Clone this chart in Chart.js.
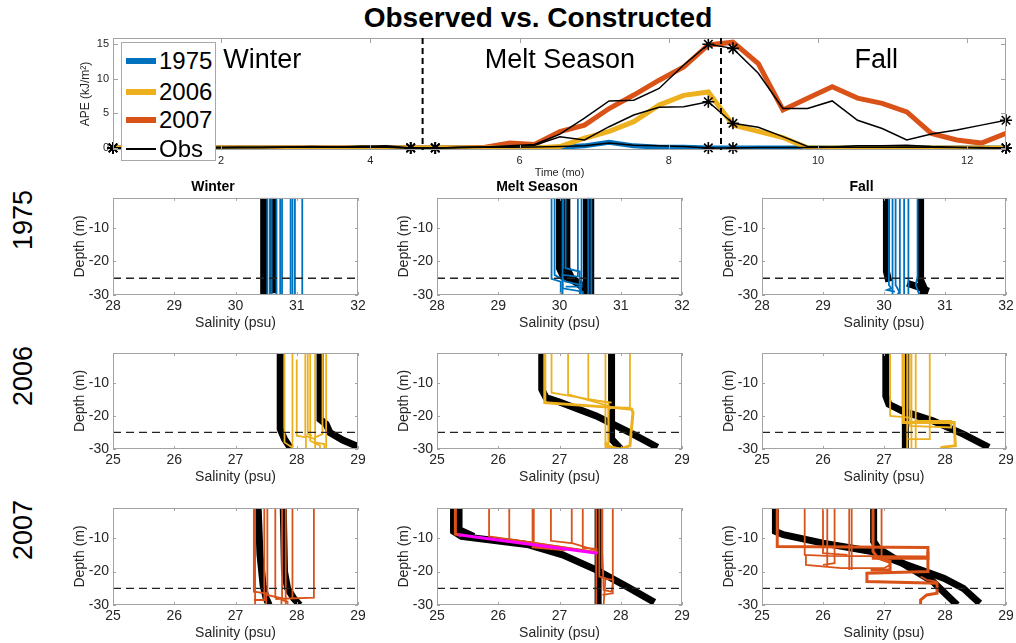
<!DOCTYPE html>
<html>
<head>
<meta charset="utf-8">
<script src="https://cdn.jsdelivr.net/npm/chart.js@4.4.1/dist/chart.umd.min.js"></script>
<style>
  body { margin:0; background:#fff; width:1016px; height:643px; overflow:hidden; position:relative;
         font-family:"Liberation Sans", Arial, sans-serif; color:#000; }
  canvas { position:absolute; }
  #title { position:absolute; left:0; width:1076px; top:2px; text-align:center; font-weight:bold; font-size:28px; }
  .rowlab { position:absolute; font-size:27px; transform:translate(-50%,-50%) rotate(-90deg); white-space:nowrap; }
  #legend { position:absolute; left:121px; top:42px; width:93px; height:117px; background:#fff;
            border:1px solid #a8a8a8; z-index:5; }
  .lg { position:absolute; left:4px; height:28px; line-height:28px; font-size:24px; padding-left:33px; }
  .lg span { position:absolute; left:0; top:50%; width:30px; transform:translateY(-50%); }
</style>
</head>
<body>
<div id="title">Observed vs. Constructed</div>
<div class="rowlab" style="left:23px;top:220px">1975</div>
<div class="rowlab" style="left:23px;top:376px">2006</div>
<div class="rowlab" style="left:23px;top:530px">2007</div>
<div id="legend">
  <div class="lg" style="top:4px"><span style="height:6px;background:#0072BD"></span>1975</div>
  <div class="lg" style="top:35px"><span style="height:6px;background:#EDB120"></span>2006</div>
  <div class="lg" style="top:63px"><span style="height:6px;background:#D95319"></span>2007</div>
  <div class="lg" style="top:92px"><span style="height:2px;background:#000"></span>Obs</div>
</div>
<canvas id="ape" width="976" height="165" style="left:40px;top:25px"></canvas>
<script>
// ---- top panel: APE time series ----
const times = [0.55, 0.88, 1.22, 1.55, 1.88, 2.22, 2.55, 2.88, 3.21, 3.55, 3.88, 4.21, 4.54,
  4.87, 5.21, 5.54, 5.87, 6.20, 6.54, 6.87, 7.20, 7.53, 7.87, 8.20, 8.53, 8.86, 9.20, 9.53,
  9.86, 10.19, 10.53, 10.86, 11.19, 11.52, 11.86, 12.19, 12.52];
const ape1975 = [0,0,0,0,0,0,0,0,0,0,0,0,0,0,0,0,0,0, 0.1,0.3,0.8,0.3,0.1,0.1, 0,0,0,0,0,0,0,0,0,0,0,0,0];
const ape2006 = [0,0,0,0,0,0,0,0,0,0,0,0,0,0,0,0,0,0, 0.2,1.4,2.4,3.8,6.2,7.6,8.1,3.3,2.4,1.5, 0,0,0,0,0,0,0,0,0];
const ape2007 = [0,0,0,0,0,0,0,0,0,0,0,0,0,0,0, 0.1,0.7,0.5,2.35,3.3,5.7,7.65,9.8,11.7,14.9,15.3,
  12.2,5.5,7.2,8.85,7.2,6.45,5.2,2.1,1.15,0.7,2.1];
const obs1975 = [0,0,0,0.05,0,0.05,0.05,0.1,0.15,0.1,0.1,0.1,0,0,0.05,0.1,0.1,0.15,0.2,0.3,0.7,
  0.4,0.3,0.2,0,0,0.05,0.05,0.05,0.1,0.1,0.1,0.15,0.1,0.05,0,0];
const obs2006 = [0,0,0.05,0.05,0.05,0.1,0.05,0.1,0.2,0.15,0.25,0.15,0,0,0.1,0.15,0.2,0.4,1.6,1.15,
  3.07,4.76,5.87,5.96,6.68,3.56,2.98,1.63,0.2,0.15,0.3,0.3,0.4,0.2,0.1,0.05,0];
const obs2007 = [0,0.05,0,0.05,0.1,0.05,0.1,0.15,0.1,0.1,0.2,0.3,0,0,0.05,0.15,0.3,0.5,2.0,4.3,
  6.8,6.9,8.6,12.0,15.0,14.4,10.8,5.7,5.7,6.8,4.0,2.8,1.15,2.0,2.6,3.3,4.0];
const seasonEdgeIdx = [0, 12, 13, 24, 25, 36];
const seasonBreaks = [4.70, 8.70];
const seasonNames = ['Winter', 'Melt Season', 'Fall'];
const seasonNameX = [2.55, 6.54, 10.78];
const apeTicks = [0, 5, 10, 15];
const timeTicks = [2, 4, 6, 8, 10, 12];

// ---- profile panels: salinity (psu) vs depth (m), each profile = [salinity, depth] pairs ----
const salTicks1975 = [28, 29, 30, 31, 32];
const salTicks0607 = [25, 26, 27, 28, 29];
const depthTicks = [-30, -20, -10];
const mixedLayer = -25;

const winter1975Obs = [
  [[30.46,-1],[30.46,-30]],
  [[30.62,-1],[30.62,-29.5]]
];
const winter1975Con = [
  [[30.52,-1],[30.52,-30]], [[30.56,-1],[30.56,-30]], [[30.59,-1],[30.59,-30]],
  [[30.67,-1],[30.67,-30]], [[30.73,-1],[30.73,-30]], [[30.76,-1],[30.76,-30]],
  [[30.90,-1],[30.90,-30]], [[30.93,-1],[30.93,-30]], [[30.97,-1],[30.97,-30]],
  [[31.09,-1],[31.09,-30]]
];
const melt1975Obs = [
  [[30.0,-1],[30.0,-22],[30.05,-24],[30.25,-26],[30.4,-28],[30.47,-30]],
  [[30.12,-1],[30.12,-22],[30.2,-25],[30.4,-27.5],[30.5,-30]],
  [[30.44,-1],[30.44,-30]],
  [[30.51,-1],[30.51,-30]]
];
const melt1975Con = [
  [[29.87,-1],[29.87,-25.2],[30.02,-26],[30.02,-30]],
  [[29.92,-1],[29.92,-24],[30.1,-26],[30.35,-27],[30.35,-30]],
  [[30.05,-1],[30.05,-30]],
  [[30.1,-1],[30.1,-22],[30.33,-23],[30.33,-30]],
  [[30.3,-1],[30.3,-24.5],[30.05,-24],[30.05,-28],[30.38,-29],[30.38,-30]],
  [[30.36,-1],[30.36,-27.5],[30.1,-27.5]],
  [[30.47,-1],[30.47,-30]],
  [[30.52,-1],[30.52,-30]]
];
const fall1975Obs = [
  [[30.04,-1],[30.04,-23],[30.08,-26]],
  [[30.6,-1],[30.6,-25.5],[30.66,-28],[30.63,-30]],
  [[30.38,-26.5],[30.55,-27.5],[30.68,-28.5],[30.65,-30]]
];
const fall1975Con = [
  [[30.08,-1],[30.08,-27],[30.12,-28],[30.05,-28.5],[30.18,-29]],
  [[30.14,-1],[30.14,-30]],
  [[30.19,-1],[30.19,-27],[30.25,-29],[30.22,-30]],
  [[30.26,-1],[30.26,-30]],
  [[30.33,-1],[30.33,-30]],
  [[30.4,-1],[30.4,-30]],
  [[30.55,-1],[30.55,-24.5],[30.52,-27],[30.58,-30]]
];
const winter2006Obs = [
  [[27.73,-1],[27.73,-24],[27.8,-27],[27.9,-29.8]],
  [[28.38,-1],[28.38,-21],[28.48,-22.5],[28.54,-25],[28.75,-27.3],[29.0,-29.3]]
];
const winter2006Con = [
  [[27.8,-1],[27.8,-28],[27.92,-29.5]],
  [[27.93,-1],[27.93,-30]],
  [[28.0,-3],[28.0,-26],[28.15,-26.5],[28.15,-30]],
  [[28.14,-1],[28.14,-26],[28.3,-27],[28.3,-30]],
  [[28.18,-1],[28.18,-25.5],[28.25,-26]],
  [[28.22,-1],[28.22,-27.5],[28.38,-29],[28.38,-30]],
  [[28.3,-1],[28.3,-28],[28.45,-28.5],[28.45,-30]],
  [[28.42,-1],[28.42,-25.5],[28.3,-26.5],[28.3,-28]],
  [[28.48,-1],[28.48,-30]]
];
const melt2006Obs = [
  [[26.71,-1],[26.71,-12],[26.78,-14.5],[27.0,-15.8],[27.6,-20],[28.2,-25.5],[28.6,-29.5]],
  [[27.85,-1],[27.85,-27],[28.0,-30]]
];
const melt2006Con = [
  [[26.87,-1],[26.87,-13],[27.8,-16],[27.8,-29],[28.0,-30]],
  [[27.14,-1],[27.14,-13.5],[27.8,-17],[27.8,-28]],
  [[27.47,-1],[27.47,-15],[27.85,-16]],
  [[27.75,-1],[27.75,-29.5],[27.95,-30]],
  [[28.15,-1],[28.15,-17.5],[27.85,-17.5],[27.8,-18]]
];
const melt2006ConThick = [
  [[26.76,-1],[26.76,-16],[27.9,-17.5],[28.18,-18],[28.2,-19],[28.15,-29],[28.0,-30],[27.8,-29.5],[27.75,-28]]
];
const fall2006Obs = [
  [[27.03,-1],[27.03,-14],[27.08,-16.5],[27.3,-18.5],[27.8,-21.5],[28.3,-25.5],[28.72,-29.5]],
  [[27.35,-1],[27.35,-30]]
];
const fall2006Con = [
  [[27.1,-1],[27.1,-20],[27.42,-20.5]],
  [[27.38,-1],[27.38,-30]],
  [[27.42,-1],[27.42,-23],[28.1,-23.5],[28.1,-21.5],[27.5,-21.5]],
  [[27.52,-1],[27.52,-30]],
  [[27.75,-1],[27.75,-27],[27.4,-27]],
  [[27.45,-1],[27.45,-30]]
];
const fall2006ConThick = [
  [[27.32,-1],[27.32,-22],[28.15,-22],[28.17,-29],[27.95,-29.5],[27.93,-30]]
];
const winter2007Obs = [
  [[27.37,-1],[27.4,-15],[27.45,-24],[27.5,-28],[27.55,-30]],
  [[27.78,-1],[27.8,-20],[27.85,-25],[27.95,-28],[28.05,-30]]
];
const winter2007Con = [
  [[27.3,-1],[27.3,-26],[27.5,-26.5],[27.5,-30]],
  [[27.32,-1],[27.32,-30]],
  [[27.47,-1],[27.47,-28.5],[27.3,-28.5]],
  [[27.52,-1],[27.52,-27],[27.75,-28],[27.75,-30]],
  [[27.65,-1],[27.65,-28]],
  [[27.76,-1],[27.76,-28.5],[27.85,-29],[27.85,-30]],
  [[27.82,-1],[27.82,-30]],
  [[27.93,-1],[27.93,-28]],
  [[28.28,-1],[28.28,-27.8],[27.65,-28.2]]
];
const melt2007Obs = [
  [[25.27,-1],[25.27,-8],[25.4,-9.5],[26.5,-12],[27.05,-15],[27.6,-19.5],[28.1,-24.5],[28.55,-29.2]],
  [[25.36,-1],[25.36,-7.5],[25.6,-9.5]],
  [[27.63,-1],[27.63,-30]]
];
const melt2007Con = [
  [[25.85,-1],[25.85,-9.5],[27.62,-14.2]],
  [[26.18,-1],[26.18,-10.3],[27.62,-14.3]],
  [[26.86,-1],[26.86,-10.8],[27.22,-11.6],[27.62,-13.8]],
  [[27.2,-1],[27.2,-11.7]],
  [[27.38,-1],[27.38,-12.9],[27.62,-13.2]],
  [[27.6,-1],[27.6,-30]],
  [[27.65,-1],[27.65,-21.5],[27.75,-22],[27.72,-30]],
  [[27.7,-1],[27.7,-14],[27.72,-25.5],[27.85,-26],[27.88,-22.5],[27.7,-22]],
  [[27.87,-1],[27.87,-26.5],[27.7,-27]]
];
const melt2007ConThick = [
  [[25.3,-1],[25.3,-8.8],[25.4,-9.2]],
  [[26.57,-1],[26.57,-12.6],[27.1,-13.5]]
];
const melt2007Fit = [[25.35,-9],[27.62,-14.5]];
const fall2007Obs = [
  [[25.22,-1],[25.22,-8],[25.35,-9],[26.0,-11.5],[26.8,-14],[27.3,-17.5],[27.8,-23],[28.2,-30]],
  [[26.83,-1],[26.83,-11],[26.9,-13],[27.3,-17.5],[27.98,-22],[28.3,-25],[28.57,-29.5]]
];
const fall2007Con = [
  [[25.7,-1],[25.7,-15],[26.05,-15.3],[27.72,-15.5]],
  [[25.72,-15],[25.72,-18],[26.3,-19],[27.0,-19],[27.1,-18]],
  [[26.0,-1],[26.0,-14.5],[26.4,-15]],
  [[26.07,-1],[26.07,-18.5]],
  [[26.19,-1],[26.19,-17.5],[26.0,-18]],
  [[26.43,-1],[26.43,-19.5]],
  [[26.47,-1],[26.47,-19.5]],
  [[26.96,-1],[26.96,-16.5],[27.1,-17.5]],
  [[27.6,-21.5],[27.7,-22.5],[27.87,-23]]
];
const fall2007ConThick = [
  [[25.25,-1],[25.25,-12.5],[27.72,-12.8],[27.72,-16],[26.8,-16]],
  [[26.82,-1],[26.82,-14],[26.9,-16],[27.1,-17],[27.1,-19.5],[26.78,-19.5]],
  [[27.72,-14],[27.72,-20],[26.72,-20.5],[26.72,-23],[27.87,-23.5],[27.87,-26.5],[27.7,-27],[27.6,-28.5],[27.6,-30]]
];

const C1975 = '#0072BD', C2006 = '#EDB120', C2007 = '#D95319', TXT = '#262626';
Chart.defaults.font.family = '"Liberation Sans", Arial, sans-serif';
Chart.defaults.color = TXT;
Chart.defaults.animation = false;

// box + inward ticks on all four sides (MATLAB style), optional dashed depth line
const frame = {
  id: 'frame',
  afterDatasetsDraw(chart, args, opts) {
    const { ctx, chartArea: a, scales: { x, y } } = chart;
    ctx.save();
    if (opts.depthLine !== undefined) {
      const py = y.getPixelForValue(opts.depthLine);
      ctx.setLineDash([8, 5]);
      ctx.lineWidth = 1.3;
      ctx.strokeStyle = '#222';
      ctx.beginPath(); ctx.moveTo(a.left, py); ctx.lineTo(a.right, py); ctx.stroke();
      ctx.setLineDash([]);
    }
    const len = opts.tickLen || 3;
    ctx.strokeStyle = '#a3a3a3';
    ctx.lineWidth = 1;
    ctx.strokeRect(Math.round(a.left) + 0.5, Math.round(a.top) + 0.5,
                   Math.round(a.width) - 1, Math.round(a.height) - 1);
    ctx.beginPath();
    x.ticks.forEach(t => {
      const px = Math.round(x.getPixelForValue(t.value)) + 0.5;
      ctx.moveTo(px, a.bottom); ctx.lineTo(px, a.bottom - len);
      ctx.moveTo(px, a.top); ctx.lineTo(px, a.top + len);
    });
    y.ticks.forEach(t => {
      const py = Math.round(y.getPixelForValue(t.value)) + 0.5;
      ctx.moveTo(a.left, py); ctx.lineTo(a.left + len, py);
      ctx.moveTo(a.right, py); ctx.lineTo(a.right - len, py);
    });
    ctx.stroke();
    ctx.restore();
  }
};
Chart.register(frame);

const seasons = {
  id: 'seasons',
  beforeDatasetsDraw(chart) {
    const { ctx, scales: { x, y } } = chart;
    ctx.save();
    ctx.font = '27px "Liberation Sans", Arial, sans-serif';
    ctx.fillStyle = '#000';
    ctx.textAlign = 'center';
    ctx.textBaseline = 'middle';
    seasonNames.forEach((n, i) => ctx.fillText(n, x.getPixelForValue(seasonNameX[i]), y.getPixelForValue(12.7)));
    ctx.restore();
  },
  afterDatasetsDraw(chart) {
    const { ctx, chartArea: a, scales: { x } } = chart;
    ctx.save();
    ctx.setLineDash([6, 4]);
    ctx.lineWidth = 2;
    ctx.strokeStyle = '#000';
    seasonBreaks.forEach(b => {
      const px = x.getPixelForValue(b);
      ctx.beginPath(); ctx.moveTo(px, a.top); ctx.lineTo(px, a.bottom); ctx.stroke();
    });
    ctx.restore();
  }
};

const series = (arr) => times.map((t, i) => ({ x: t, y: arr[i] }));
const line = (arr, color, w) => ({ data: series(arr), borderColor: color, borderWidth: w,
  showLine: true, pointRadius: 0, tension: 0 });

const stars = [];
[obs1975, obs2006, obs2007].forEach(o => seasonEdgeIdx.forEach(i => stars.push({ x: times[i], y: o[i] })));

new Chart(document.getElementById('ape'), {
  type: 'scatter',
  data: {
    datasets: [
      { data: stars, pointStyle: 'star', pointRadius: 6, borderColor: '#000', borderWidth: 1.6,
        backgroundColor: '#000', showLine: false, clip: false },
      line(obs1975, '#000', 1.5),
      line(obs2006, '#000', 1.5),
      line(obs2007, '#000', 1.5),
      line(ape2006, C2006, 5),
      line(ape2007, C2007, 5),
      line(ape1975, C1975, 5)
    ]
  },
  options: {
    responsive: false,
    events: [],
    layout: { padding: { top: 13, right: 10, left: 0, bottom: 0 } },
    plugins: { legend: { display: false }, tooltip: { enabled: false }, frame: { tickLen: 5 } },
    scales: {
      x: {
        type: 'linear', min: times[0], max: times[times.length - 1],
        grid: { display: false, drawTicks: false }, border: { display: false },
        ticks: { font: { size: 11 }, padding: 4, maxRotation: 0, autoSkip: false },
        afterBuildTicks: s => { s.ticks = timeTicks.map(v => ({ value: v })); },
        afterFit: s => { s.height = 40; },
        title: { display: true, text: 'Time (mo)', font: { size: 11 }, padding: { top: 0, bottom: 10.4 } }
      },
      y: {
        type: 'linear', min: -0.3, max: 15.9,
        grid: { display: false, drawTicks: false }, border: { display: false },
        ticks: { font: { size: 11 }, padding: 4 },
        afterBuildTicks: s => { s.ticks = apeTicks.map(v => ({ value: v })); },
        afterFit: s => { s.width = 73; },
        title: { display: true, text: 'APE (kJ/m²)', font: { size: 12 }, padding: { top: 38.8, bottom: 0 } }
      }
    }
  },
  plugins: [seasons]
});

// ---- 3 x 3 profile grid ----
const colPlotLeft = [113, 437, 762];
const colPlotW = [245, 245, 244];
const rowCanvas = [{ top: 179, h: 156, pad: 0 }, { top: 339, h: 150, pad: 14 }, { top: 494, h: 151, pad: 14 }];

const panels = [
  { r: 0, c: 0, title: 'Winter', obs: winter1975Obs, con: winter1975Con, thick: [], color: C1975, ticks: salTicks1975 },
  { r: 0, c: 1, title: 'Melt Season', obs: melt1975Obs, con: melt1975Con, thick: [], color: C1975, ticks: salTicks1975 },
  { r: 0, c: 2, title: 'Fall', obs: fall1975Obs, con: fall1975Con, thick: [], color: C1975, ticks: salTicks1975 },
  { r: 1, c: 0, obs: winter2006Obs, con: winter2006Con, thick: [], color: C2006, ticks: salTicks0607 },
  { r: 1, c: 1, obs: melt2006Obs, con: melt2006Con, thick: melt2006ConThick, color: C2006, ticks: salTicks0607 },
  { r: 1, c: 2, obs: fall2006Obs, con: fall2006Con, thick: fall2006ConThick, color: C2006, ticks: salTicks0607 },
  { r: 2, c: 0, obs: winter2007Obs, con: winter2007Con, thick: [], color: C2007, ticks: salTicks0607 },
  { r: 2, c: 1, obs: melt2007Obs, con: melt2007Con, thick: melt2007ConThick, fit: melt2007Fit, color: C2007, ticks: salTicks0607 },
  { r: 2, c: 2, obs: fall2007Obs, con: fall2007Con, thick: fall2007ConThick, color: C2007, ticks: salTicks0607 }
];

const prof = (pts, color, w) => ({ data: pts.map(p => ({ x: p[0], y: p[1] })), borderColor: color,
  borderWidth: w, showLine: true, pointRadius: 0, tension: 0 });

panels.forEach(p => {
  const rc = rowCanvas[p.r];
  const cv = document.createElement('canvas');
  cv.width = 45 + colPlotW[p.c] + 12;
  cv.height = rc.h;
  cv.style.left = (colPlotLeft[p.c] - 45) + 'px';
  cv.style.top = rc.top + 'px';
  document.body.appendChild(cv);

  const ds = [];
  if (p.fit) ds.push(prof(p.fit, '#FF00FF', 3));
  p.thick.forEach(q => ds.push(prof(q, p.color, 3)));
  p.con.forEach(q => ds.push(prof(q, p.color, 1.8)));
  p.obs.forEach(q => ds.push(prof(q, '#000', 7)));

  new Chart(cv, {
    type: 'scatter',
    data: { datasets: ds },
    options: {
      responsive: false,
      events: [],
      layout: { padding: { top: rc.pad, right: 12, left: 0, bottom: 0 } },
      plugins: {
        legend: { display: false }, tooltip: { enabled: false },
        title: { display: !!p.title, text: p.title || '', font: { size: 14, weight: 'bold' },
                 color: '#000', padding: { top: 0, bottom: 2 } },
        frame: { tickLen: 3, depthLine: mixedLayer }
      },
      scales: {
        x: {
          type: 'linear', min: p.ticks[0], max: p.ticks[p.ticks.length - 1],
          grid: { display: false, drawTicks: false }, border: { display: false },
          ticks: { font: { size: 14 }, padding: 3, maxRotation: 0, autoSkip: false },
          afterBuildTicks: s => { s.ticks = p.ticks.map(v => ({ value: v })); },
          afterFit: s => { s.height = 40; },
          title: { display: true, text: 'Salinity (psu)', font: { size: 14 }, padding: { top: 0, bottom: 3 } }
        },
        y: {
          type: 'linear', min: -30, max: -1,
          grid: { display: false, drawTicks: false }, border: { display: false },
          ticks: { font: { size: 14 }, padding: 4 },
          afterBuildTicks: s => { s.ticks = depthTicks.map(v => ({ value: v })); },
          afterFit: s => { s.width = 45; },
          title: { display: true, text: 'Depth (m)', font: { size: 14 }, padding: { top: 3.6, bottom: 0 } }
        }
      }
    }
  });
});
</script>
</body>
</html>
